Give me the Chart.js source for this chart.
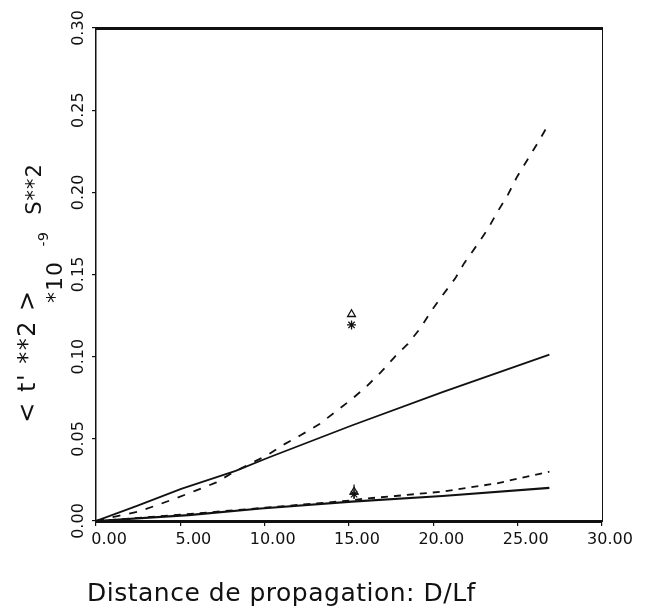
<!DOCTYPE html>
<html><head><meta charset="utf-8">
<script src="https://cdn.jsdelivr.net/npm/chart.js@4.4.1/dist/chart.umd.min.js"></script>
<style>html,body{margin:0;padding:0;background:#fff}</style>
</head><body>
<canvas id="c" width="646" height="607"></canvas>
<script>
// ---- data ----
const xTickValues = [0, 5, 10, 15, 20, 25, 30];
const yTickValues = [0, 0.05, 0.10, 0.15, 0.20, 0.25, 0.30];

const upperDashedX = [0, 1.40, 2.58, 3.66, 4.84, 5.91, 7.10, 8.17, 10.2, 11.18, 12.15, 13.23, 14.19, 15.16, 16.02, 16.88, 17.74, 18.49, 19.25, 19.89, 20.54, 21.29, 21.83, 22.58, 23.23, 23.76, 24.41, 24.95, 25.59, 26.24, 26.88];
const upperDashedY = [0, 0.0033, 0.0059, 0.0098, 0.0142, 0.0185, 0.0233, 0.0298, 0.0403, 0.0468, 0.0523, 0.0588, 0.0664, 0.0741, 0.0817, 0.0904, 0.1002, 0.1078, 0.1176, 0.1279, 0.1373, 0.1475, 0.1569, 0.1678, 0.1776, 0.1874, 0.1983, 0.2092, 0.2200, 0.2309, 0.2423];

const upperSolidX = [0, 2.47, 5.05, 8.28, 10.2, 15.16, 20.54, 26.88];
const upperSolidY = [0, 0.0094, 0.0196, 0.0305, 0.0385, 0.0581, 0.0784, 0.1012];

const lowerSolidX = [0, 5.48, 9.78, 15.16, 20.54, 26.88];
const lowerSolidY = [0, 0.0036, 0.0076, 0.0118, 0.0152, 0.0201];

const lowerDashedX = [0, 5, 10, 15.16, 15.8, 17.74, 20.54, 23.76, 26.88];
const lowerDashedY = [0, 0.0038, 0.0081, 0.0125, 0.0135, 0.0152, 0.0179, 0.0229, 0.0300];

const triangleX = [15.15, 15.3];
const triangleY = [0.1258, 0.0178];
const starX = [15.15, 15.3];
const starY = [0.1193, 0.0163];
const errorBarX = [15.3, 15.3];
const errorBarY = [0.0135, 0.0222];

const xTitle = 'Distance de propagation: D/Lf';
const yTitleMain = "< t' **2 >";
const yTitleFactor = '*10';
const yTitleExp = '-9';
const yTitleUnit = 'S**2';

// ---- helpers ----
const pts = (xs, ys) => xs.map((x, i) => ({x, y: ys[i]}));
const FONT = "'DejaVu Sans', sans-serif";
const INK = '#111';

const titlesPlugin = {
  id: 'axisTitles',
  afterDraw(chart) {
    const ctx = chart.ctx;
    ctx.save();
    ctx.fillStyle = INK;
    ctx.textBaseline = 'middle';
    ctx.font = '25px ' + FONT;
    ctx.letterSpacing = '0.5px';
    ctx.textAlign = 'left';
    ctx.fillText(xTitle, 87, 594);
    const rot = (txt, x, y, size, sp) => {
      ctx.save();
      ctx.translate(x, y);
      ctx.rotate(-Math.PI / 2);
      ctx.font = size + 'px ' + FONT;
      ctx.letterSpacing = sp + 'px';
      ctx.textAlign = 'center';
      ctx.fillText(txt, 0, 0);
      ctx.restore();
    };
    rot(yTitleMain, 29, 356, 24, 1.5);
    rot(yTitleFactor, 56, 282, 22, 1);
    rot(yTitleExp, 44, 239, 14, 0.5);
    rot(yTitleUnit, 36, 189, 21, 1);
    ctx.restore();
  }
};

new Chart(document.getElementById('c'), {
  type: 'scatter',
  data: {
    datasets: [
      {data: pts(upperDashedX, upperDashedY), showLine: true, borderColor: INK, borderWidth: 1.8, borderDash: [8, 9], pointRadius: 0, tension: 0},
      {data: pts(upperSolidX, upperSolidY), showLine: true, borderColor: INK, borderWidth: 1.8, pointRadius: 0, tension: 0},
      {data: pts(lowerDashedX, lowerDashedY), showLine: true, borderColor: INK, borderWidth: 1.8, borderDash: [7, 6], pointRadius: 0, tension: 0},
      {data: pts(lowerSolidX, lowerSolidY), showLine: true, borderColor: INK, borderWidth: 2.2, pointRadius: 0, tension: 0},
      {data: pts(errorBarX, errorBarY), showLine: true, borderColor: INK, borderWidth: 1.2, pointRadius: 0},
      {data: pts(triangleX, triangleY), pointStyle: 'triangle', pointRadius: 4.5, borderColor: INK, backgroundColor: 'rgba(0,0,0,0)', borderWidth: 1.3},
      {data: pts(starX, starY), pointStyle: 'star', pointRadius: 4.5, borderColor: INK, backgroundColor: INK, borderWidth: 1.3}
    ]
  },
  options: {
    responsive: false,
    animation: false,
    devicePixelRatio: 1,
    layout: {padding: 0},
    plugins: {legend: {display: false}, tooltip: {enabled: false}},
    scales: {
      x: {
        type: 'linear', position: 'bottom', min: 0, max: 30,
        afterBuildTicks: s => { s.ticks = xTickValues.map(v => ({value: v})); },
        afterFit: s => { s.height = 86; },
        ticks: {
          callback: v => (v < 10 ? '\u2007' : '') + Number(v).toFixed(2),
          font: {family: FONT, size: 16}, color: INK, padding: 4, labelOffset: 8, maxRotation: 0
        },
        grid: {drawOnChartArea: false, tickLength: 5, color: INK, lineWidth: 1.2},
        border: {display: true, color: INK, width: 3}
      },
      x2: {
        type: 'linear', position: 'top', min: 0, max: 30,
        afterFit: s => { s.height = 28; },
        ticks: {display: false}, grid: {display: false},
        border: {display: true, color: INK, width: 3}
      },
      y: {
        type: 'linear', position: 'left', min: 0, max: 0.3,
        afterBuildTicks: s => { s.ticks = yTickValues.map(v => ({value: v})); },
        afterFit: s => { s.width = 96; },
        ticks: {
          callback: v => Number(v).toFixed(2),
          font: {family: FONT, size: 16}, color: INK, padding: -5,
          minRotation: 90, maxRotation: 90, crossAlign: 'center'
        },
        grid: {drawOnChartArea: false, tickLength: 4, color: INK, lineWidth: 1.2},
        border: {display: true, color: INK, width: 1.5}
      },
      y2: {
        type: 'linear', position: 'right', min: 0, max: 0.3,
        afterFit: s => { s.width = 44; },
        ticks: {display: false}, grid: {display: false},
        border: {display: true, color: INK, width: 1, dash: [2, 2]}
      }
    }
  },
  plugins: [titlesPlugin]
});
</script>
</body></html>
